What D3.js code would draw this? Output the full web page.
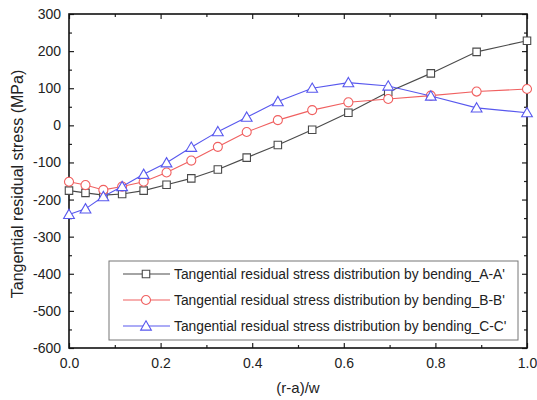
<!DOCTYPE html>
<html>
<head>
<meta charset="utf-8">
<script src="https://d3js.org/d3.v7.min.js"></script>
<style>
  body { margin: 0; background: #fff; }
  text { font-family: "Liberation Sans", Arial, sans-serif; fill: #222; }
</style>
</head>
<body>
<div id="chart"></div>
<script>
// Set height and width for svg
var svgWidth = 537;
var svgHeight = 400;

var margin = { top: 14, right: 10, bottom: 52, left: 69 };

var width = svgWidth - margin.left - margin.right;
var height = svgHeight - margin.top - margin.bottom;

// data
var positions = [0, 0.036, 0.075, 0.116, 0.163, 0.213, 0.267, 0.325, 0.388, 0.456, 0.531, 0.61, 0.697, 0.79, 0.89, 1.0];
var stressA = [-176, -182, -188, -185, -176, -160, -143, -119, -87, -53, -12, 34, 90, 140, 198, 228];
var stressB = [-152, -161, -174, -165, -152, -127, -95, -58, -18, 14, 41, 62, 71, 80, 91, 98];
var stressC = [-240, -225, -192, -165, -132, -101, -59, -17, 22, 64, 100, 115, 106, 79, 47, 34];
var seriesNames = [
  "Tangential residual stress distribution by bending_A-A'",
  "Tangential residual stress distribution by bending_B-B'",
  "Tangential residual stress distribution by bending_C-C'"
];
var xTicks = [0, 0.2, 0.4, 0.6, 0.8, 1.0];
var yTicks = [300, 200, 100, 0, -100, -200, -300, -400, -500, -600];

var series = [
  { name: seriesNames[0], values: stressA, color: "#4a4a4a", shape: "square" },
  { name: seriesNames[1], values: stressB, color: "#f06060", shape: "circle" },
  { name: seriesNames[2], values: stressC, color: "#5858ee", shape: "triangle" }
];

var svg = d3
  .select("#chart")
  .append("svg")
  .attr("width", svgWidth)
  .attr("height", svgHeight);

var chartGroup = svg
  .append("g")
  .attr("transform", `translate(${margin.left}, ${margin.top})`);

var xScale = d3.scaleLinear().domain([0, 1]).range([0, width]);
var yScale = d3.scaleLinear().domain([-600, 300]).range([height, 0]);

// minor ticks halfway between majors
var xMinor = d3.range(0.1, 1, 0.2);
var yMinor = d3.range(-550, 300, 100);

function styleAxis(g) {
  g.select(".domain").remove();
  g.selectAll("line").attr("stroke", "#222").attr("stroke-width", 1.2);
}

function styleLabels(g) {
  g.selectAll("text")
    .attr("font-size", 14)
    .attr("fill", "#222")
    .attr("font-family", "Liberation Sans, Arial");
}

// bottom axis with labels, ticks inward
chartGroup.append("g")
  .attr("transform", `translate(0, ${height})`)
  .call(d3.axisBottom(xScale).tickValues(xTicks).tickFormat(d => d.toFixed(1)).tickSizeInner(-5).tickSizeOuter(0).tickPadding(10))
  .call(styleAxis)
  .call(styleLabels);
chartGroup.append("g")
  .attr("transform", `translate(0, ${height})`)
  .call(d3.axisBottom(xScale).tickValues(xMinor).tickFormat("").tickSizeInner(-3).tickSizeOuter(0))
  .call(styleAxis);

// top axis
chartGroup.append("g")
  .call(d3.axisTop(xScale).tickValues(xTicks).tickFormat("").tickSizeInner(-5).tickSizeOuter(0))
  .call(styleAxis);
chartGroup.append("g")
  .call(d3.axisTop(xScale).tickValues(xMinor).tickFormat("").tickSizeInner(-3).tickSizeOuter(0))
  .call(styleAxis);

// left axis (plain hyphen for minus, like the original)
chartGroup.append("g")
  .call(d3.axisLeft(yScale).tickValues(yTicks).tickFormat(d => String(d)).tickSizeInner(-5).tickSizeOuter(0).tickPadding(8))
  .call(styleAxis)
  .call(styleLabels);
chartGroup.append("g")
  .call(d3.axisLeft(yScale).tickValues(yMinor).tickFormat("").tickSizeInner(-3).tickSizeOuter(0))
  .call(styleAxis);

// right axis
chartGroup.append("g")
  .attr("transform", `translate(${width}, 0)`)
  .call(d3.axisRight(yScale).tickValues(yTicks).tickFormat("").tickSizeInner(-5).tickSizeOuter(0))
  .call(styleAxis);
chartGroup.append("g")
  .attr("transform", `translate(${width}, 0)`)
  .call(d3.axisRight(yScale).tickValues(yMinor).tickFormat("").tickSizeInner(-3).tickSizeOuter(0))
  .call(styleAxis);

// frame
chartGroup.append("rect")
  .attr("width", width)
  .attr("height", height)
  .attr("fill", "none")
  .attr("stroke", "#111")
  .attr("stroke-width", 1.6);

// markers
var symbolTypes = { square: d3.symbolSquare, circle: d3.symbolCircle, triangle: d3.symbolTriangle };
var symbolSizes = { square: 56, circle: 64, triangle: 50 };

function drawMarker(sel, s) {
  sel.attr("d", d3.symbol().type(symbolTypes[s.shape]).size(symbolSizes[s.shape])())
    .attr("fill", "#fff")
    .attr("stroke", s.color)
    .attr("stroke-width", 1.1);
}

var line = d3.line()
  .x((d, i) => xScale(positions[i]))
  .y(d => yScale(d));

series.forEach(function(s) {
  var g = chartGroup.append("g");
  g.append("path")
    .datum(s.values)
    .attr("d", line)
    .attr("fill", "none")
    .attr("stroke", s.color)
    .attr("stroke-width", 1.1);
  g.selectAll("path.pt")
    .data(s.values)
    .enter()
    .append("path")
    .classed("pt", true)
    .attr("transform", (d, i) => `translate(${xScale(positions[i])}, ${yScale(d) + (s.shape === "triangle" ? 1 : 0)})`)
    .call(sel => drawMarker(sel, s));
});

// legend
var legend = chartGroup.append("g")
  .attr("transform", `translate(${109 - margin.left}, ${261 - margin.top})`);
legend.append("rect")
  .attr("width", 409)
  .attr("height", 79)
  .attr("fill", "#fff")
  .attr("stroke", "#777")
  .attr("stroke-width", 1);

series.forEach(function(s, i) {
  var row = legend.append("g").attr("transform", `translate(0, ${13 + i * 26})`);
  row.append("line")
    .attr("x1", 14).attr("x2", 61)
    .attr("stroke", s.color)
    .attr("stroke-width", 1.1);
  row.append("path")
    .attr("transform", `translate(37, ${s.shape === "triangle" ? 1 : 0})`)
    .call(sel => drawMarker(sel, s));
  row.append("text")
    .attr("x", 65)
    .attr("dy", "0.35em")
    .attr("font-size", 13.8)
    .text(s.name);
});

// axis titles
svg.append("text")
  .attr("x", margin.left + width / 2)
  .attr("y", 393)
  .attr("text-anchor", "middle")
  .attr("font-size", 15)
  .text("(r-a)/w");

svg.append("text")
  .attr("transform", "rotate(-90)")
  .attr("x", -184)
  .attr("y", 23)
  .attr("text-anchor", "middle")
  .attr("font-size", 16)
  .text("Tangential residual stress (MPa)");
</script>
</body>
</html>
